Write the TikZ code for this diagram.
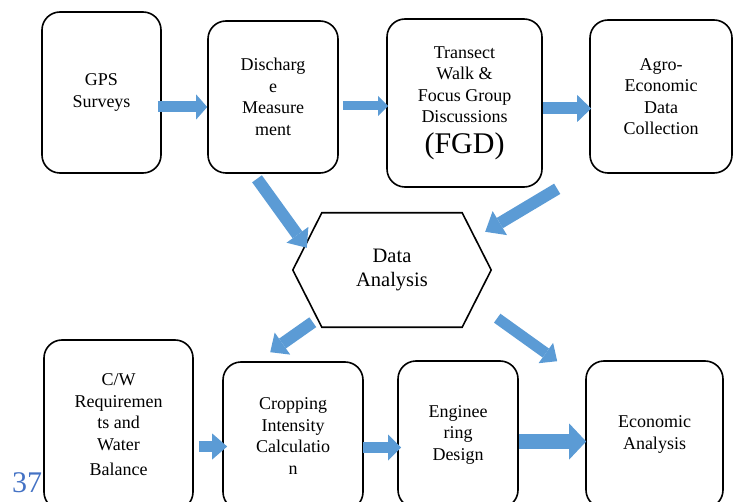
\documentclass[tikz,border=0pt]{standalone}
\usepackage{fontspec}
\setmainfont{Liberation Serif}
\usetikzlibrary{arrows.meta,calc}
\definecolor{flowblue}{HTML}{5B9BD5}
\definecolor{pageblue}{HTML}{4472C4}
\tikzstyle{stage}=[draw,line width=1.6pt,rounded corners=18pt,align=center,inner sep=2pt,font=\fontsize{18}{21.5}\selectfont]
\tikzstyle{hexa}=[align=center,minimum width=198pt,minimum height=114pt,font=\fontsize{20.5}{24}\selectfont]
\tikzstyle{flow}=[draw=flowblue,line width=11pt,-{Triangle[length=13pt,width=25pt,line width=0pt]}]

\begin{document}
\begin{tikzpicture}[x=1pt,y=-1pt]
    \useasboundingbox (0,0) rectangle (735,502);
    \clip (0,0) rectangle (735,502);
    % page number
    \node[anchor=base west,inner sep=0pt,text=pageblue,font=\fontsize{30}{30}\selectfont] (pg) at (12,492) {37};
    % First we draw the stages
    \foreach \pos/\name/\bw/\bh/\txt in {{(101.5,92.5)/gps/119/161/GPS\\Surveys},
        {(273,97)/dis/130/152/Discharg\\e\\Measure\\ment},
        {(464.5,103)/tra/155/168/Transect\\Walk \&\\Focus Group\\Discussions\\[9pt]{\fontsize{30}{32}\selectfont(FGD)}},
        {(661,96.5)/agr/142/153/Agro-\\Economic\\Data\\Collection},
        {(118.5,425)/cw/149/170/{C/W}\\Requiremen\\ts and\\Water\\[4pt]Balance},
        {(293,436)/cro/140/148/Cropping\\Intensity\\Calculatio\\n},
        {(458,434.5)/eng/120/147/Enginee\\ring\\Design},
        {(654.5,434.5)/eco/137/147/Economic\\Analysis}}
        \node[stage,minimum width=\bw pt,minimum height=\bh pt] (\name) at \pos {\txt};
    % Then the analysis hexagon
    \node[hexa] (ana) at (392,270) {Data\\Analysis};
    \draw[line width=1.6pt] ($(ana.north west)+(29,0)$) -- ($(ana.north east)+(-29,0)$) -- (ana.east)
        -- ($(ana.south east)+(-29,0)$) -- ($(ana.south west)+(29,0)$) -- (ana.west) -- cycle;
    % Connect stages with block arrows
    \path[flow,-{Triangle[length=11pt,width=25pt,line width=0pt]}] ($(gps.east)+(-4,14.5)$) -- ($(dis.west)+(0,10)$);
    \path[flow,line width=9pt,-{Triangle[length=10pt,width=20pt,line width=0pt]}] ($(dis.east)+(4,9)$) -- ($(tra.west)+(2,3)$);
    \path[flow,line width=12pt,-{Triangle[length=14pt,width=27pt,line width=0pt]}] ($(tra.east)+(0,5.5)$) -- ($(agr.west)+(2,12)$);
    \path[flow,line width=12pt,-{Triangle[length=16pt,width=27pt,line width=0pt]}] ($(dis.south)+(-16,5)$) -- ($(ana.north west)+(14,35)$);
    \path[flow,line width=12pt,-{Triangle[length=17pt,width=28pt,line width=0pt]}] ($(agr.south west)+(-32,15)$) -- ($(ana.north east)+(-6,19)$);
    \path[flow,line width=12pt,-{Triangle[length=15pt,width=27pt,line width=0pt]}] ($(ana.south west)+(20,-5)$) -- ($(cro.north west)+(48,-9)$);
    \path[flow,-{Triangle[length=14pt,width=25pt,line width=0pt]}] ($(ana.south east)+(6,-9)$) -- ($(eco.north west)+(-28,1)$);
    \path[flow,-{Triangle[length=15pt,width=26pt,line width=0pt]}] ($(cw.east)+(5,21.5)$) -- ($(cro.west)+(5,10.5)$);
    \path[flow,-{Triangle[length=13pt,width=26pt,line width=0pt]}] ($(cro.east)+(-1,11.5)$) -- ($(eng.west)+(4,13)$);
    \path[flow,line width=15pt,-{Triangle[length=17pt,width=36pt,line width=0pt]}] ($(eng.east)+(0,7)$) -- ($(eco.west)+(1,7)$);
\end{tikzpicture}
\end{document}
